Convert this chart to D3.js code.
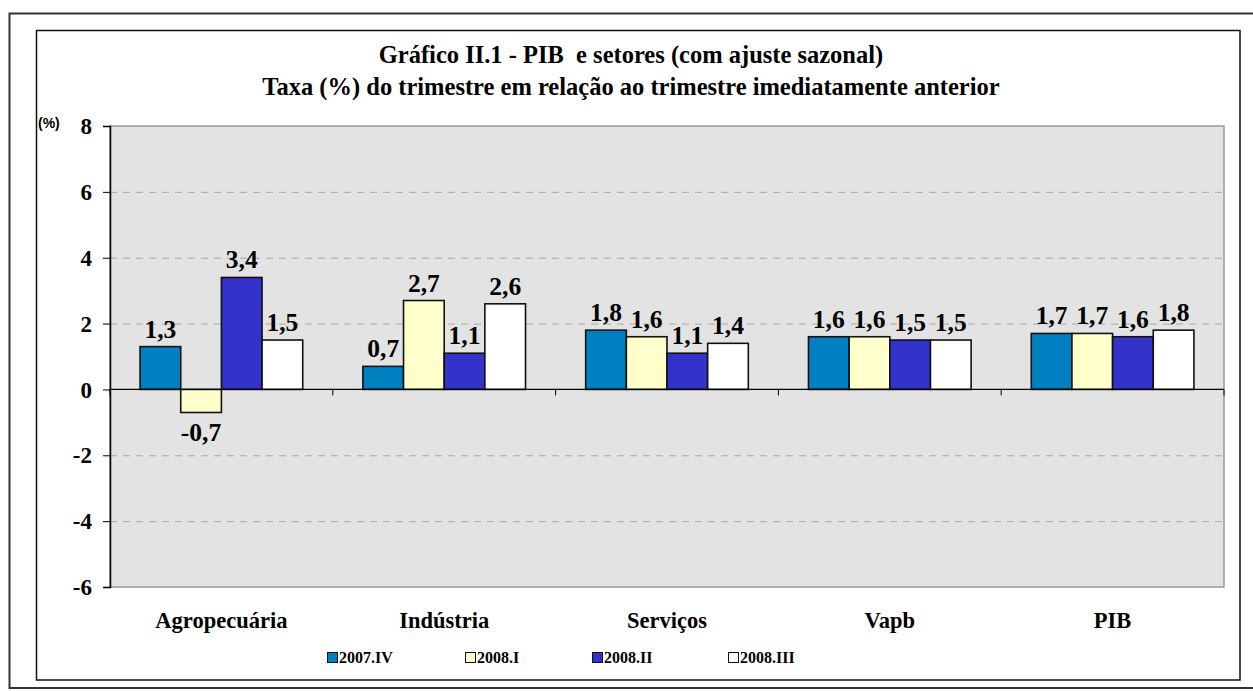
<!DOCTYPE html>
<html>
<head>
<meta charset="utf-8">
<script src="https://cdn.jsdelivr.net/npm/d3@7"></script>
<style>
  body { margin: 0; background: #fff; }
  svg { display: block; }
</style>
</head>
<body>
<div class="chart-container"></div>
<script>
/* global d3 */
var categories = ['Agropecuária', 'Indústria', 'Serviços', 'Vapb', 'PIB']
var seriesNames = ['2007.IV', '2008.I', '2008.II', '2008.III']
var s2007IV = [1.3, 0.7, 1.8, 1.6, 1.7]
var s2008I = [-0.7, 2.7, 1.6, 1.6, 1.7]
var s2008II = [3.4, 1.1, 1.1, 1.5, 1.6]
var s2008III = [1.5, 2.6, 1.4, 1.5, 1.8]
var yTicks = [-6, -4, -2, 0, 2, 4, 6, 8]

;(function () {
  var width = 1253
  var height = 691
  var colors = ['#0080C0', '#FFFFCC', '#3333CC', '#FFFFFF']
  var series = [s2007IV, s2008I, s2008II, s2008III]
  var serif = '"Liberation Serif", "Times New Roman", serif'
  var plot = { left: 110, top: 126, right: 1224, bottom: 587 }

  var svg = d3.select('.chart-container')
    .append('svg')
    .attr('width', width)
    .attr('height', height)

  // outer frame and chart box
  svg.append('rect')
    .attr('x', 9.5).attr('y', 13.5)
    .attr('width', 1260).attr('height', 674.5)
    .attr('fill', 'none')
    .attr('stroke', '#333')
    .attr('stroke-width', 2)

  svg.append('rect')
    .attr('x', 36.5).attr('y', 30.5)
    .attr('width', 1203.5).attr('height', 649.5)
    .attr('fill', '#fff')
    .attr('stroke', '#111')
    .attr('stroke-width', 1.5)

  svg.selectAll('.title')
    .data(['Gráfico II.1 - PIB  e setores (com ajuste sazonal)',
      'Taxa (%) do trimestre em relação ao trimestre imediatamente anterior'])
    .enter()
    .append('text')
    .attr('class', 'title')
    .attr('x', 631)
    .attr('y', function (d, i) { return 63 + i * 32 })
    .attr('text-anchor', 'middle')
    .attr('font-family', serif)
    .attr('font-weight', 'bold')
    .attr('font-size', '24.5px')
    .style('white-space', 'pre')
    .text(function (d) { return d })

  var y = d3.scaleLinear()
    .domain([-6, 8])
    .range([plot.bottom, plot.top])

  var x0 = d3.scaleBand()
    .domain(categories)
    .range([plot.left, plot.right])
    .paddingInner(0.27)
    .paddingOuter(0.135)

  var x1 = d3.scaleBand()
    .domain(seriesNames)
    .range([0, x0.bandwidth()])

  // plot area
  svg.append('rect')
    .attr('x', plot.left).attr('y', plot.top)
    .attr('width', plot.right - plot.left)
    .attr('height', plot.bottom - plot.top)
    .attr('fill', '#E3E3E3')
    .attr('stroke', '#999')
    .attr('stroke-width', 1.5)

  svg.selectAll('.grid')
    .data(yTicks.filter(function (d) { return d !== 0 && d !== -6 && d !== 8 }))
    .enter()
    .append('line')
    .attr('class', 'grid')
    .attr('x1', plot.left)
    .attr('x2', plot.right)
    .attr('y1', function (d) { return y(d) + 0.5 })
    .attr('y2', function (d) { return y(d) + 0.5 })
    .attr('stroke', '#A8A8A8')
    .attr('stroke-dasharray', '7,6')

  // y axis
  var yAxis = svg.append('g')
    .attr('transform', 'translate(' + plot.left + ',0)')
    .call(d3.axisLeft(y).tickValues(yTicks).tickSize(7).tickPadding(11)
      .tickFormat(function (d) { return String(d) }))
  yAxis.select('.domain').attr('stroke', '#000').attr('stroke-width', 1.5)
  yAxis.selectAll('.tick line').attr('stroke', '#000')
  yAxis.selectAll('.tick text')
    .attr('font-family', serif)
    .attr('font-weight', 'bold')
    .attr('font-size', '23px')
    .attr('fill', '#000')
    .attr('dy', '0.33em')

  svg.append('text')
    .attr('x', 38)
    .attr('y', 128)
    .attr('font-family', 'Arial, "Liberation Sans", sans-serif')
    .attr('font-weight', 'bold')
    .attr('font-size', '14px')
    .text('(%)')

  // bars
  var groups = svg.selectAll('.group')
    .data(categories)
    .enter()
    .append('g')
    .attr('class', 'group')
    .attr('transform', function (d) { return 'translate(' + x0(d) + ',0)' })

  groups.selectAll('rect')
    .data(function (d, ci) {
      return series.map(function (s, si) { return { name: seriesNames[si], value: s[ci], idx: si } })
    })
    .enter()
    .append('rect')
    .attr('x', function (d) { return x1(d.name) })
    .attr('y', function (d) { return y(Math.max(0, d.value)) })
    .attr('width', x1.bandwidth())
    .attr('height', function (d) { return Math.abs(y(d.value) - y(0)) })
    .attr('fill', function (d) { return colors[d.idx] })
    .attr('stroke', '#111')
    .attr('stroke-width', 1.6)

  groups.selectAll('.val')
    .data(function (d, ci) {
      return series.map(function (s, si) { return { name: seriesNames[si], value: s[ci] } })
    })
    .enter()
    .append('text')
    .attr('class', 'val')
    .attr('x', function (d) { return x1(d.name) + x1.bandwidth() / 2 })
    .attr('y', function (d) { return d.value >= 0 ? y(d.value) - 9 : y(d.value) + 29 })
    .attr('text-anchor', 'middle')
    .attr('font-family', serif)
    .attr('font-weight', 'bold')
    .attr('font-size', '25.5px')
    .text(function (d) { return d3.format('.1f')(d.value).replace('.', ',').replace('−', '-') })

  // zero line with category ticks
  svg.append('line')
    .attr('x1', plot.left).attr('x2', plot.right)
    .attr('y1', y(0)).attr('y2', y(0))
    .attr('stroke', '#000')
    .attr('stroke-width', 1.2)

  var bounds = categories.map(function (d) { return x0(d) - x0.step() * x0.paddingInner() / 2 })
  bounds.push(plot.right)
  svg.selectAll('.cat-tick')
    .data(bounds)
    .enter()
    .append('line')
    .attr('class', 'cat-tick')
    .attr('x1', function (d) { return d }).attr('x2', function (d) { return d })
    .attr('y1', y(0)).attr('y2', y(0) + 6)
    .attr('stroke', '#000')

  svg.selectAll('.cat')
    .data(categories)
    .enter()
    .append('text')
    .attr('class', 'cat')
    .attr('x', function (d) { return x0(d) + x0.bandwidth() / 2 })
    .attr('y', 628)
    .attr('text-anchor', 'middle')
    .attr('font-family', serif)
    .attr('font-weight', 'bold')
    .attr('font-size', '22.5px')
    .text(function (d) { return d })

  // legend
  var legendX = [327, 465, 592, 728]
  var legend = svg.selectAll('.legend')
    .data(seriesNames)
    .enter()
    .append('g')
    .attr('class', 'legend')
    .attr('transform', function (d, i) { return 'translate(' + legendX[i] + ',652)' })

  legend.append('rect')
    .attr('x', 0.5).attr('y', 0.5)
    .attr('width', 10).attr('height', 10)
    .attr('fill', function (d, i) { return colors[i] })
    .attr('stroke', '#111')

  legend.append('text')
    .attr('x', 12)
    .attr('y', 11)
    .attr('font-family', serif)
    .attr('font-weight', 'bold')
    .attr('font-size', '16px')
    .text(function (d) { return d })
})()
</script>
</body>
</html>
